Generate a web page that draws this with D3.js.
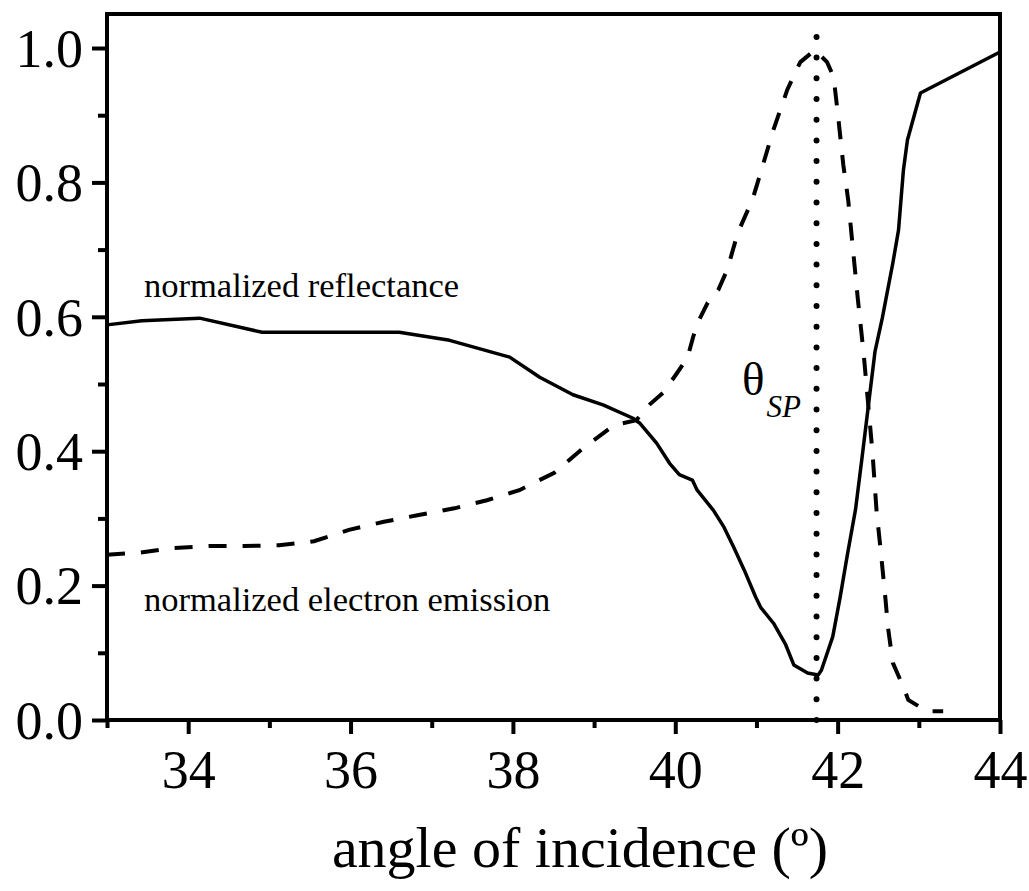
<!DOCTYPE html>
<html>
<head>
<meta charset="utf-8">
<script src="https://cdn.jsdelivr.net/npm/d3@7"></script>
<style>
  html, body { margin: 0; padding: 0; background: #fff; }
  svg { display: block; }
  text { font-family: "Liberation Serif", "Times New Roman", serif; fill: #000; }
</style>
</head>
<body>
<svg id="chart" width="1029" height="891"></svg>
<script>
// Reflectance curve (solid)
const reflectanceAngle = [33.0, 33.43, 34.14, 34.91, 35.74, 36.6, 37.22, 37.96, 38.33, 38.74, 39.11, 39.48, 39.56, 39.77, 39.93, 40.05, 40.21, 40.27, 40.47, 40.6, 40.72, 40.85, 40.99, 41.05, 41.21, 41.36, 41.46, 41.63, 41.76, 41.8, 41.94, 42.03, 42.12, 42.22, 42.30, 42.38, 42.46, 42.55, 42.68, 42.75, 42.81, 42.86, 43.02, 44.0];
const reflectance = [0.588, 0.594, 0.598, 0.577, 0.577, 0.577, 0.565, 0.540, 0.510, 0.484, 0.469, 0.449, 0.442, 0.412, 0.382, 0.365, 0.357, 0.342, 0.312, 0.287, 0.257, 0.223, 0.183, 0.168, 0.144, 0.112, 0.082, 0.070, 0.067, 0.074, 0.124, 0.182, 0.246, 0.313, 0.390, 0.469, 0.548, 0.598, 0.680, 0.729, 0.818, 0.863, 0.933, 0.994];

// Electron emission curve (dashed)
const emissionAngle = [33.0, 33.4, 33.83, 34.26, 34.69, 35.12, 35.55, 35.98, 36.41, 36.84, 37.28, 37.68, 38.08, 38.51, 38.88, 39.25, 39.52, 39.68, 39.85, 40.02, 40.15, 40.22, 40.28, 40.40, 40.53, 40.64, 40.77, 40.95, 41.08, 41.2, 41.38, 41.54, 41.72, 41.87, 41.95, 42.0, 42.07, 42.13, 42.19, 42.25, 42.32, 42.43, 42.48, 42.53, 42.59, 42.62, 42.68, 42.81, 42.87, 43.1, 43.3];
const emission = [0.246, 0.249, 0.256, 0.259, 0.259, 0.260, 0.266, 0.283, 0.295, 0.305, 0.315, 0.327, 0.342, 0.368, 0.406, 0.439, 0.446, 0.469, 0.487, 0.516, 0.539, 0.570, 0.592, 0.621, 0.640, 0.670, 0.725, 0.774, 0.826, 0.875, 0.938, 0.979, 0.997, 0.979, 0.957, 0.905, 0.826, 0.774, 0.699, 0.625, 0.546, 0.397, 0.310, 0.253, 0.179, 0.138, 0.085, 0.049, 0.030, 0.013, 0.013];

// Surface plasmon resonance angle
const thetaSP = 41.74;

const xTicks = [34, 36, 38, 40, 42, 44];
const xMinorTicks = [33, 35, 37, 39, 41, 43];
const yTicks = [0.0, 0.2, 0.4, 0.6, 0.8, 1.0];
const yMinorTicks = [0.1, 0.3, 0.5, 0.7, 0.9];

const margin = { left: 107, right: 29, top: 14, bottom: 171 };
const W = 1029, H = 891;
const plotW = W - margin.left - margin.right;
const plotH = H - margin.top - margin.bottom;

const x = d3.scaleLinear().domain([33, 44]).range([0, plotW]);
const y = d3.scaleLinear().domain([0, 1.0506]).range([plotH, 0]);

const svg = d3.select("#chart");
const g = svg.append("g").attr("transform", `translate(${margin.left},${margin.top})`);

// Axes with outward ticks
const xAxis = g.append("g").attr("transform", `translate(0,${plotH})`)
  .call(d3.axisBottom(x).tickValues(xTicks).tickFormat(d3.format("d")).tickSize(14).tickPadding(16));
const xMinor = g.append("g").attr("transform", `translate(0,${plotH})`)
  .call(d3.axisBottom(x).tickValues(xMinorTicks).tickFormat("").tickSize(8));
const yAxis = g.append("g")
  .call(d3.axisLeft(y).tickValues(yTicks).tickFormat(d3.format(".1f")).tickSize(15).tickPadding(9));
const yMinor = g.append("g")
  .call(d3.axisLeft(y).tickValues(yMinorTicks).tickFormat("").tickSize(9));

[xAxis, xMinor, yAxis, yMinor].forEach(a => {
  a.select(".domain").remove();
  a.selectAll(".tick line").attr("stroke", "#000").attr("stroke-width", 4);
  a.selectAll(".tick text")
    .style("font-family", '"Liberation Serif", "Times New Roman", serif')
    .style("font-size", "54px").attr("fill", "#000");
});
xAxis.selectAll(".tick text").attr("dy", "0.71em");
yAxis.selectAll(".tick text").attr("dy", "0.34em");

// Frame
g.append("rect")
  .attr("x", 0).attr("y", 0).attr("width", plotW).attr("height", plotH)
  .attr("fill", "none").attr("stroke", "#000").attr("stroke-width", 4);

// Resonance marker
g.append("line")
  .attr("x1", x(thetaSP)).attr("x2", x(thetaSP))
  .attr("y1", y(0)).attr("y2", y(1.02))
  .attr("stroke", "#000").attr("stroke-width", 6)
  .attr("stroke-linecap", "round").attr("stroke-dasharray", "0,20.7");

const line = d3.line().x(d => x(d[0])).y(d => y(d[1]));

g.append("path")
  .datum(d3.zip(reflectanceAngle, reflectance))
  .attr("d", line)
  .attr("fill", "none").attr("stroke", "#000").attr("stroke-width", 3.5)
  .attr("stroke-linejoin", "round");

g.append("path")
  .datum(d3.zip(emissionAngle, emission))
  .attr("d", line)
  .attr("fill", "none").attr("stroke", "#000").attr("stroke-width", 4)
  .attr("stroke-dasharray", "18,16");

// Annotations
svg.append("text").attr("x", 144).attr("y", 297)
  .style("font-size", "34.5px").text("normalized reflectance");
svg.append("text").attr("x", 144).attr("y", 611)
  .style("font-size", "34.5px").text("normalized electron emission");

const th = svg.append("text").attr("x", 742).attr("y", 395).style("font-size", "47px");
th.append("tspan").text("θ");
th.append("tspan").attr("dy", 22).attr("dx", 2).style("font-size", "31px").style("font-style", "italic").text("SP");

// Axis title
svg.append("text").attr("x", 580).attr("y", 867).attr("text-anchor", "middle")
  .style("font-size", "58px").text("angle of incidence (º)");
</script>
</body>
</html>
